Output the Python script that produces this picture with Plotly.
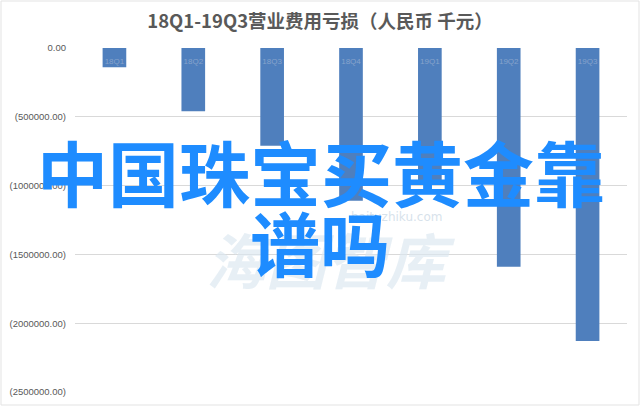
import plotly.graph_objects as go

categories = ["18Q1", "18Q2", "18Q3", "18Q4", "19Q1", "19Q2", "19Q3"]
values = [-140000, -460000, -710000, -1110000, -990000, -1590000, -2130000]
tick_vals = [0, -500000, -1000000, -1500000, -2000000, -2500000]
tick_text = ["0.00", "(500000.00)", "(1000000.00)", "(1500000.00)", "(2000000.00)", "(2500000.00)"]
title_text = "18Q1-19Q3营业费用亏损（人民币 千元）"
overlay_line1 = "中国珠宝买黄金靠"
overlay_line2 = "谱吗"
watermark_text = "海图智库"
watermark_url = "haituzhiku.com"

W, H = 640, 407
ML, MR, MT, MB = 75, 13, 48, 15
PW, PH = W - ML - MR, H - MT - MB

def px(x):
    return (x - ML) / PW

def py(y):
    return (H - MB - y) / PH

fig = go.Figure()
fig.add_trace(go.Bar(
    x=categories, y=values,
    marker=dict(color="#4F7FBD", line=dict(width=0)),
    width=0.3,
    hoverinfo="x+y",
))

fig.update_layout(
    width=W, height=H,
    margin=dict(l=ML, r=MR, t=MT, b=MB, autoexpand=False),
    paper_bgcolor="white", plot_bgcolor="white",
    showlegend=False,
    font=dict(family="Noto Sans CJK SC, Liberation Sans, sans-serif", color="#595959"),
    title=dict(text="<b>" + title_text + "</b>", x=0.5, xanchor="center", y=1 - 22 / H, yanchor="middle",
               font=dict(size=18.5, color="#595959", family="Noto Sans CJK SC, sans-serif")),
    xaxis=dict(anchor="free", position=py(55), side="bottom", showgrid=False, showline=False,
               ticks="", zeroline=False, automargin=False,
               tickfont=dict(size=8, color="#86A3CC", family="Liberation Sans, sans-serif")),
    yaxis=dict(range=[-2500000, 0], tickvals=tick_vals, ticktext=tick_text,
               showgrid=True, gridcolor="#D9D9D9", gridwidth=1, zeroline=False,
               showline=False, ticks="", ticklabelstandoff=8, automargin=False,
               tickfont=dict(size=9.5, color="#595959", family="Liberation Sans, sans-serif")),
)

# chart area border
fig.add_shape(type="rect", xref="paper", yref="paper",
              x0=px(1), x1=px(W - 1), y0=py(H - 2), y1=py(1),
              line=dict(color="#E3E3E3", width=1), fillcolor="rgba(0,0,0,0)", layer="below")

# faint watermark
fig.add_annotation(text="<b><i>" + watermark_text + "</i></b>", xref="paper", yref="paper",
                   x=px(330), y=py(257), showarrow=False,
                   font=dict(size=60, color="rgba(218,230,240,0.65)", family="Noto Sans CJK SC, sans-serif"))
fig.add_annotation(text=watermark_url, xref="paper", yref="paper",
                   x=px(396), y=py(217), showarrow=False,
                   font=dict(size=12, color="rgba(205,218,230,0.8)", family="DejaVu Sans, sans-serif"))

# big overlay text
fig.add_annotation(text="<b>" + overlay_line1 + "</b>", xref="paper", yref="paper",
                   x=px(321), y=py(170), showarrow=False,
                   font=dict(size=71, color="#1E8CFF", family="Noto Sans CJK SC, sans-serif"))
fig.add_annotation(text="<b>" + overlay_line2 + "</b>", xref="paper", yref="paper",
                   x=px(320), y=py(241), showarrow=False,
                   font=dict(size=70, color="#1E8CFF", family="Noto Sans CJK SC, sans-serif"))

fig.write_html("out.html", config={"displayModeBar": False},
               post_script="document.body.style.margin='0';document.body.style.padding='0';")
